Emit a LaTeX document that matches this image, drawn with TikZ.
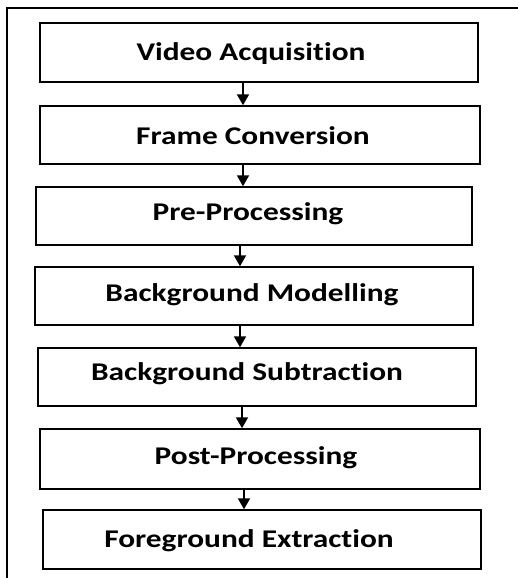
\documentclass[tikz,border=0pt]{standalone}
\usepackage{fontspec}
\setmainfont{Carlito}[Ligatures=NoCommon]
\usetikzlibrary{arrows.meta}
\newcommand{\widetext}[1]{\scalebox{1.23}[1]{#1}}
\begin{document}
\begin{tikzpicture}[x=1pt,y=-1pt,
  stage/.style={draw=black, line width=1.5pt, rectangle, inner sep=0pt},
  lbl/.style={inner sep=0pt, font=\fontsize{25.5}{30}\selectfont\bfseries},
  flow/.style={line width=2pt, -{Triangle[width=12pt,length=11pt]}},
  frame/.style={line width=2pt}]
\useasboundingbox (0,0) rectangle (518,578);
\draw[frame] (518,8) -- (7,8) -- (7,578);
\node[stage, minimum width=438pt, minimum height=59pt] (b1) at (259,52.5) {};
\node[stage, minimum width=440pt, minimum height=58pt] (b2) at (260,135) {};
\node[stage, minimum width=436pt, minimum height=58pt] (b3) at (254,216) {};
\node[stage, minimum width=438pt, minimum height=58pt] (b4) at (254,296) {};
\node[stage, minimum width=438pt, minimum height=58pt] (b5) at (257,377) {};
\node[stage, minimum width=440pt, minimum height=60pt] (b6) at (260,459) {};
\node[stage, minimum width=438pt, minimum height=59pt] (b7) at (262,539.5) {};
\node[lbl] (t1) at ([xshift=-8pt,yshift=-1pt]b1.center) {\widetext{Video Acquisition}};
\node[lbl] (t2) at ([xshift=-7pt,yshift=-1pt]b2.center) {\widetext{Frame Conversion}};
\node[lbl] (t3) at ([xshift=-6pt,yshift=2pt]b3.center) {\widetext{Pre-Processing}};
\node[lbl] (t4) at ([xshift=-2pt,yshift=1pt]b4.center) {\widetext{Background Modelling}};
\node[lbl] (t5) at ([xshift=-10pt,yshift=3pt]b5.center) {\widetext{Background Subtraction}};
\node[lbl] (t6) at ([xshift=-4pt,yshift=1pt]b6.center) {\widetext{Post-Processing}};
\node[lbl] (t7) at ([xshift=-13pt,yshift=-1pt]b7.center) {\widetext{Foreground Extraction}};
\coordinate (a1) at (243,0);
\coordinate (a2) at (243,0);
\coordinate (a3) at (240,0);
\coordinate (a4) at (240,0);
\coordinate (a5) at (242,0);
\coordinate (a6) at (244,0);
\draw[flow] (b1.south -| a1) -- (b2.north -| a1);
\draw[flow] (b2.south -| a2) -- (b3.north -| a2);
\draw[flow] (b3.south -| a3) -- (b4.north -| a3);
\draw[flow] (b4.south -| a4) -- (b5.north -| a4);
\draw[flow] (b5.south -| a5) -- (b6.north -| a5);
\draw[flow] (b6.south -| a6) -- (b7.north -| a6);
\end{tikzpicture}
\end{document}
